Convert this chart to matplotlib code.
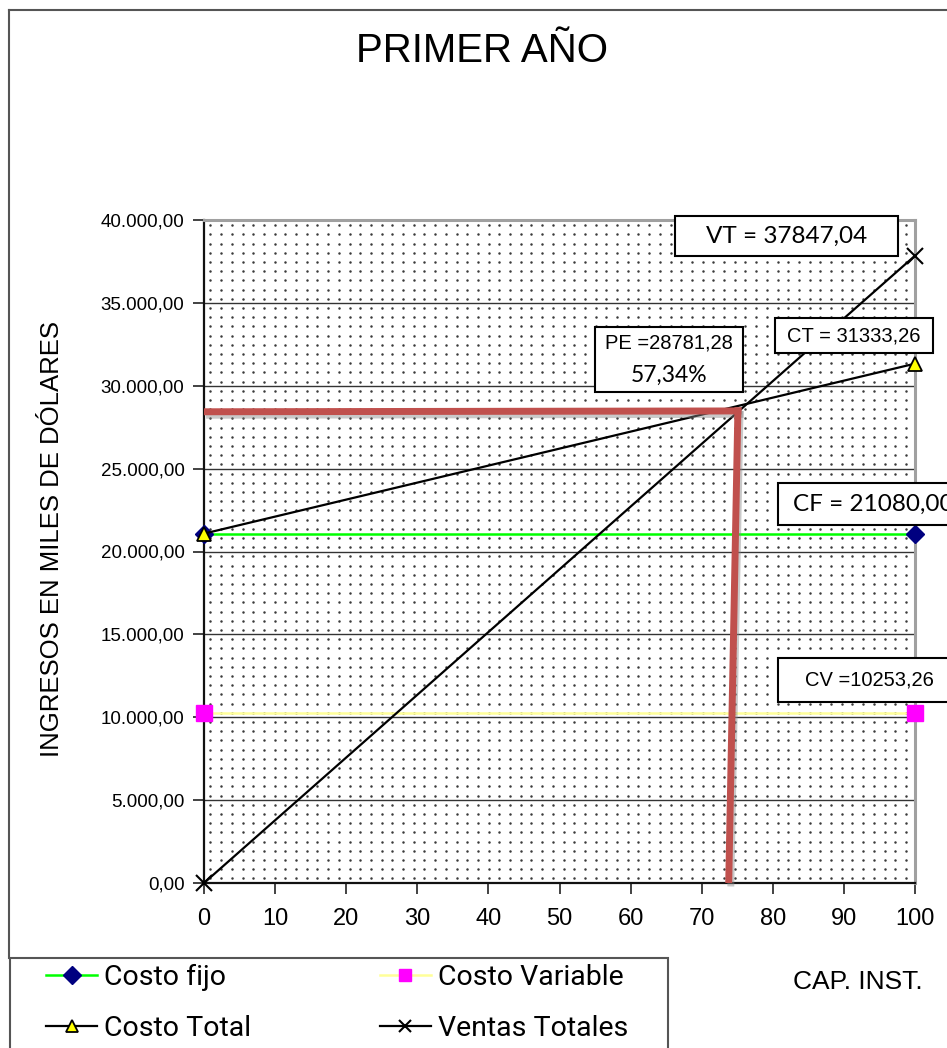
import numpy as np
import matplotlib
matplotlib.use("Agg")
import matplotlib.pyplot as plt
from matplotlib.patches import Rectangle
from matplotlib.lines import Line2D
import matplotlib.patheffects as pe
from matplotlib import font_manager as fm

# ---------------- data ----------------
cap_inst = [0, 100]
costo_fijo = [21080.00, 21080.00]
costo_variable = [10253.26, 10253.26]
costo_total = [21080.00, 31333.26]
ventas_totales = [0.0, 37847.04]

pe_horiz_x = [0, 75.6]
pe_horiz_y = [28430, 28480]
pe_vert_x = [75.1, 73.8]
pe_vert_y = [28700, 0]

x_ticks = list(range(0, 101, 10))
y_ticks = list(range(0, 40001, 5000))

title = "PRIMER AÑO"
ylabel = "INGRESOS EN MILES DE DÓLARES"
xlabel = "CAP. INST."
legend_labels = ["Costo fijo", "Costo Variable", "Costo Total", "Ventas Totales"]
ann_vt = "VT = 37847,04"
ann_ct = "CT = 31333,26"
ann_pe1 = "PE =28781,28"
ann_pe2 = "57,34%"
ann_cf = "CF = 21080,00"
ann_cv = "CV =10253,26"

# ---------------- fonts ----------------
def have(name):
    try:
        fm.findfont(fm.FontProperties(family=name), fallback_to_default=False)
        return True
    except Exception:
        return False

ARIAL = ["Liberation Sans", "DejaVu Sans"]
NARROW = ["Liberation Sans Narrow", "DejaVu Sans"] if have("Liberation Sans Narrow") else ["Roboto", "DejaVu Sans"]
CALIBRI = ["Lato", "DejaVu Sans"]
plt.rcParams["font.family"] = ARIAL

W, H = 947, 1048
fig = plt.figure(figsize=(W / 100, H / 100), dpi=100)

def fx(px):
    return px / W

def fy(py):
    return 1 - py / H

ax = fig.add_axes([fx(204), fy(883), fx(915) - fx(204), fy(220) - fy(883)])
ax.set_xlim(0, 100)
ax.set_ylim(0, 40000)

# dotted background texture
dx, dy = 10.7 / 711, 9.2 / 663
gx, gy = np.meshgrid(np.arange(dx * 0.6, 1, dx), np.arange(dy * 0.5, 1, dy))
ax.scatter(gx.ravel(), gy.ravel(), s=3.2, color="#3a3a3a", linewidths=0,
           transform=ax.transAxes, zorder=0.5)

# grid
ax.set_yticks(y_ticks)
ax.set_xticks(x_ticks)
ax.yaxis.grid(True, color="#333333", linewidth=1.0, zorder=1)
ax.set_axisbelow(True)
ax.set_yticklabels([f"{v:,.2f}".replace(",", "X").replace(".", ",").replace("X", ".") for v in y_ticks],
                   fontsize=13.5)
ax.set_xticklabels([str(v) for v in x_ticks], fontsize=17)
ax.tick_params(axis="both", direction="out", length=8, width=1.2, color="#222222")
ax.tick_params(axis="y", pad=6)
ax.tick_params(axis="x", pad=10)

for s in ["left", "bottom"]:
    ax.spines[s].set_color("#111111")
    ax.spines[s].set_linewidth(1.6)
for s in ["top", "right"]:
    ax.spines[s].set_color("#a0a0a0")
    ax.spines[s].set_linewidth(2.2)

# series
l_cf, = ax.plot(cap_inst, costo_fijo, color="#00ff00", lw=1.8, marker="D", ms=9,
                mfc="#000080", mec="#000080", clip_on=False, zorder=3)
l_cv, = ax.plot(cap_inst, costo_variable, color="#ffff99", lw=1.8, marker="s", ms=11,
                mfc="#ff00ff", mec="#ff00ff", clip_on=False, zorder=3)
l_ct, = ax.plot(cap_inst, costo_total, color="#000000", lw=1.6, marker="^", ms=10,
                mfc="#ffff00", mec="#000000", mew=1.3, clip_on=False, zorder=4)
l_vt, = ax.plot(cap_inst, ventas_totales, color="#000000", lw=1.6, marker="x", ms=11,
                mec="#000000", mew=1.5, clip_on=False, zorder=4)

# break-even marker lines
shadow = [pe.SimpleLineShadow(offset=(1.5, -2.5), shadow_color="#888888", alpha=0.45), pe.Normal()]
ax.plot(pe_horiz_x, pe_horiz_y, color="#c0504d", lw=5, solid_capstyle="butt",
        path_effects=shadow, zorder=5, clip_on=False)
ax.plot(pe_vert_x, pe_vert_y, color="#c0504d", lw=5, solid_capstyle="butt",
        path_effects=shadow, zorder=5, clip_on=False)

# axis labels / title
fig.text(fx(482), fy(51), title, ha="center", va="center", fontsize=29)
fig.text(fx(52), fy(539), ylabel, ha="center", va="center", rotation=90, fontsize=18.5)
fig.text(fx(858), fy(982), xlabel, ha="center", va="center", fontsize=19)

# annotation boxes (pixel positions)
def box(x0, y0, x1, y1, lines, fonts, tx=None):
    r = Rectangle((fx(x0), fy(y1)), fx(x1) - fx(x0), fy(y0) - fy(y1), transform=fig.transFigure,
                  facecolor="white", edgecolor="black", linewidth=1.5, zorder=10)
    fig.add_artist(r)
    n = len(lines)
    for i, (t, f) in enumerate(zip(lines, fonts)):
        cy = y0 + (y1 - y0) * (i + 0.5) / n
        if tx is None:
            fig.text(fx((x0 + x1) / 2), fy(cy), t, ha="center", va="center", zorder=11, **f)
        else:
            fig.text(fx(tx), fy(cy), t, ha="left", va="center", zorder=11, **f)

box(675, 216, 898, 256, [ann_vt], [dict(fontsize=17.5, family=CALIBRI)])
box(775, 318, 933, 353, [ann_ct], [dict(fontsize=14.5, family=ARIAL)])
box(595, 327, 743, 392, [ann_pe1, ann_pe2],
    [dict(fontsize=14.5, family=ARIAL), dict(fontsize=16.5, family=CALIBRI)])
box(778, 483, 990, 525, [ann_cf], [dict(fontsize=17.5, family=CALIBRI)], tx=793)
box(778, 658, 960, 702, [ann_cv], [dict(fontsize=14.5, family=ARIAL)])

# outer frame
fig.add_artist(Line2D([fx(9), fx(9)], [fy(10), fy(958)], transform=fig.transFigure,
                      color="#555555", lw=1.5))
fig.add_artist(Line2D([fx(9), fx(947)], [fy(10), fy(10)], transform=fig.transFigure,
                      color="#555555", lw=1.5))
# legend frame
fig.add_artist(Rectangle((fx(10), fy(1060)), fx(668) - fx(10), fy(958) - fy(1060),
                         transform=fig.transFigure, facecolor="white",
                         edgecolor="#555555", lw=1.5))

# legend: fill row-wise like the reference (matplotlib fills columns first)
handles = [l_cf, l_ct, l_cv, l_vt]
labels = [legend_labels[0], legend_labels[2], legend_labels[1], legend_labels[3]]
leg = fig.legend(handles, labels, ncol=2,
                 loc="upper left", bbox_to_anchor=(fx(46), fy(964)),
                 frameon=False, borderpad=0, borderaxespad=0,
                 handlelength=1.8, handletextpad=0.25, columnspacing=4.5,
                 labelspacing=0.85, prop=dict(family=NARROW, size=20.5))
for h in leg.legend_handles:
    h.set_markersize(9)

fig.savefig("out.png", dpi=100)
